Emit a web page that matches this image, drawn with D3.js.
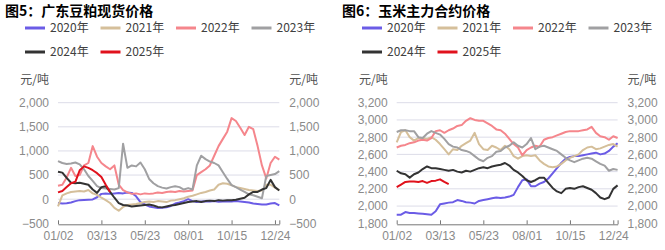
<!DOCTYPE html>
<html><head><meta charset="utf-8">
<script src="https://cdn.jsdelivr.net/npm/d3@7/dist/d3.min.js"></script>
<style>
body{margin:0;background:#fff;}
svg{display:block;font-family:"Noto Sans CJK SC","Noto Sans",sans-serif;}
</style>
</head><body>
<svg id="c" width="665" height="250"></svg>
<script>
// ---------- data ----------
const seriesNames = ["2020年","2021年","2022年","2023年","2024年","2025年"];
const seriesColors = ["#6b5ce6","#d5bf9a","#f5868c","#a0a0a2","#333333","#e0111c"];
const xTickIndex = [0,50,100,150,200,250];
const xTickLabels = ["01/02","03/13","05/23","08/01","10/15","12/24"];
const xMaxIndex = 255;
const pointStep = 5;

// 图5 广东豆粕现货价格 (元/吨), one value every 5 trading-day slots
const meal2020 = [-80,-90,-85,-70,-40,-20,-15,-10,-5,40,110,120,110,120,130,120,140,130,60,-60,-110,-150,-170,-185,-180,-170,-140,-90,-70,-40,0,-40,-60,-50,-45,-50,-40,-55,-50,-45,-50,-40,-50,-60,-70,-90,-100,-110,-110,-90,-80,-130];
const meal2021 = [-150,80,120,150,160,170,160,190,120,90,30,-20,-80,-180,-240,-160,-120,-110,-100,-80,-60,-50,-60,-40,-50,-60,-30,-20,0,20,50,70,100,130,150,180,200,300,330,320,290,250,230,210,190,180,170,180,300,300,240,190];
const meal2022 = [280,300,450,650,480,500,700,750,1100,880,750,680,620,700,300,190,140,110,120,100,120,110,120,140,130,150,160,150,170,160,170,180,500,560,620,700,900,1100,1250,1400,1680,1620,1480,1330,1500,1450,1100,700,430,750,880,820];
const meal2023 = [790,750,730,740,760,720,620,480,380,270,230,220,210,200,230,1150,650,700,680,760,620,420,330,270,240,220,250,270,250,200,230,200,700,900,830,780,750,700,560,420,290,250,200,150,100,80,50,20,480,500,520,580];
const meal2024 = [570,550,440,340,330,340,320,300,200,130,250,270,150,30,-80,-120,-130,-150,-140,-130,-120,-110,-130,-160,-170,-150,-130,-120,-100,-80,-60,-50,-40,-60,-40,-30,-40,-20,-30,-20,-20,-10,10,30,100,150,150,200,230,400,250,180];
const meal2025 = [140,170,250,330,360,600,680,650,600,540,460,300,150];
const mealTicks = [-500,0,500,1000,1500,2000];

// 图6 玉米主力合约价格 (元/吨)
const corn2020 = [1900,1900,1930,1920,1920,1915,1910,1905,1900,1940,2020,2030,2040,2045,2070,2060,2045,2040,2030,2060,2070,2080,2090,2100,2095,2100,2110,2130,2220,2300,2310,2230,2230,2260,2280,2320,2380,2440,2500,2550,2570,2580,2580,2590,2600,2610,2620,2600,2610,2640,2690,2730];
const corn2021 = [2740,2860,2880,2800,2760,2790,2790,2780,2800,2770,2720,2660,2600,2660,2650,2700,2730,2760,2850,2720,2660,2650,2700,2680,2650,2700,2660,2580,2550,2580,2590,2580,2590,2530,2490,2460,2450,2460,2490,2530,2560,2580,2600,2650,2680,2690,2660,2670,2690,2710,2720,2690];
const corn2022 = [2680,2700,2710,2730,2740,2760,2770,2760,2790,2870,2880,2850,2880,2900,2930,2940,2990,3020,3000,2990,2990,2960,2930,2890,2880,2840,2780,2720,2680,2590,2650,2680,2700,2690,2770,2790,2800,2820,2840,2860,2870,2870,2870,2880,2890,2920,2850,2810,2800,2770,2810,2790];
const corn2023 = [2860,2880,2880,2870,2870,2800,2790,2840,2870,2850,2830,2780,2720,2690,2680,2650,2640,2620,2580,2540,2520,2560,2580,2630,2640,2680,2700,2740,2700,2680,2720,2790,2660,2690,2700,2680,2660,2640,2600,2560,2530,2510,2530,2550,2560,2550,2520,2490,2470,2410,2430,2420];
const corn2024 = [2410,2380,2370,2330,2370,2390,2430,2460,2440,2440,2430,2420,2410,2420,2400,2390,2410,2400,2420,2440,2450,2440,2460,2470,2480,2500,2470,2420,2390,2350,2300,2280,2300,2330,2330,2270,2210,2170,2150,2200,2210,2200,2220,2230,2210,2190,2150,2100,2080,2100,2200,2240];
const corn2025 = [2220,2250,2280,2285,2285,2280,2290,2270,2290,2295,2310,2280,2255];
const cornTicks = [1800,2000,2200,2400,2600,2800,3000,3200];

// ---------- drawing ----------
const svg = d3.select("#c");
const fmt = d3.format(",");

function drawChart(cfg) {
  const g = svg.append("g");
  const x = d3.scaleLinear().domain([0, xMaxIndex]).range([cfg.left, cfg.right]);
  const y = d3.scaleLinear().domain([cfg.ticks[0], cfg.ticks[cfg.ticks.length-1]]).range([cfg.bottom, cfg.top]);

  // title
  g.append("text").attr("x", cfg.ox + 5).attr("y", 16)
    .attr("font-size", 14).attr("font-weight", "bold").attr("fill", "#000")
    .text(cfg.title);

  // legend
  seriesNames.forEach((name, i) => {
    const col = i < 4 ? i : i - 4;
    const row = i < 4 ? 0 : 1;
    const lx = cfg.ox + 25 + col * 75.5;
    const ly = row === 0 ? 28 : 52;
    g.append("line").attr("x1", lx).attr("x2", lx + 20).attr("y1", ly).attr("y2", ly)
      .attr("stroke", seriesColors[i]).attr("stroke-width", 3);
    g.append("text").attr("x", lx + 25).attr("y", ly + 4.3)
      .attr("font-size", 12).attr("fill", "#404040").text(name);
  });

  // unit labels
  g.append("text").attr("x", cfg.left - 9).attr("y", 84.3)
    .attr("text-anchor", "end").attr("font-size", 12).attr("fill", "#505050").text("元/吨");
  g.append("text").attr("x", cfg.right + 10).attr("y", 84.3)
    .attr("text-anchor", "start").attr("font-size", 12).attr("fill", "#505050").text("元/吨");

  // gridlines
  g.append("g").selectAll("line").data(cfg.ticks.slice(1)).join("line")
    .attr("x1", cfg.left).attr("x2", cfg.right)
    .attr("y1", d => y(d)).attr("y2", d => y(d))
    .attr("stroke", "#dcdce8").attr("stroke-width", 1);

  // y axes
  const yl = g.append("g").attr("transform", `translate(${cfg.left},0)`)
    .call(d3.axisLeft(y).tickValues(cfg.ticks).tickSize(0).tickPadding(9).tickFormat(fmt));
  const yr = g.append("g").attr("transform", `translate(${cfg.right},0)`)
    .call(d3.axisRight(y).tickValues(cfg.ticks).tickSize(0).tickPadding(10).tickFormat(fmt));
  [yl, yr].forEach(a => {
    a.select(".domain").remove();
    a.selectAll("text").attr("font-size", 12).attr("fill", "#8a8a8a").attr("font-family", null);
  });

  // lines
  const line = d3.line().x((d, i) => x(i * pointStep)).y(d => y(d));
  cfg.series.forEach((s, i) => {
    g.append("path").datum(s).attr("d", line)
      .attr("fill", "none").attr("stroke", seriesColors[i])
      .attr("stroke-width", 2).attr("stroke-linejoin", "round");
  });

  // x axis
  const labelMap = new Map(xTickIndex.map((v, i) => [v, xTickLabels[i]]));
  const xa = g.append("g").attr("transform", `translate(0,${cfg.bottom + 1})`)
    .call(d3.axisBottom(x).tickValues(xTickIndex.concat([xMaxIndex]))
      .tickSizeInner(-4).tickSizeOuter(0).tickPadding(7)
      .tickFormat(d => labelMap.get(d) || ""));
  xa.select(".domain").attr("stroke", "#777");
  xa.selectAll(".tick line").attr("stroke", "#777");
  xa.selectAll("text").attr("font-size", 12).attr("fill", "#8a8a8a").attr("font-family", null);
}

drawChart({
  ox: 0, title: "图5：广东豆粕现货价格",
  left: 58, right: 279.3, top: 102.7, bottom: 223.3,
  ticks: mealTicks,
  series: [meal2020, meal2021, meal2022, meal2023, meal2024, meal2025]
});
drawChart({
  ox: 337, title: "图6：玉米主力合约价格",
  left: 396.7, right: 617.6, top: 102.7, bottom: 223.3,
  ticks: cornTicks,
  series: [corn2020, corn2021, corn2022, corn2023, corn2024, corn2025]
});
</script>
</body></html>
